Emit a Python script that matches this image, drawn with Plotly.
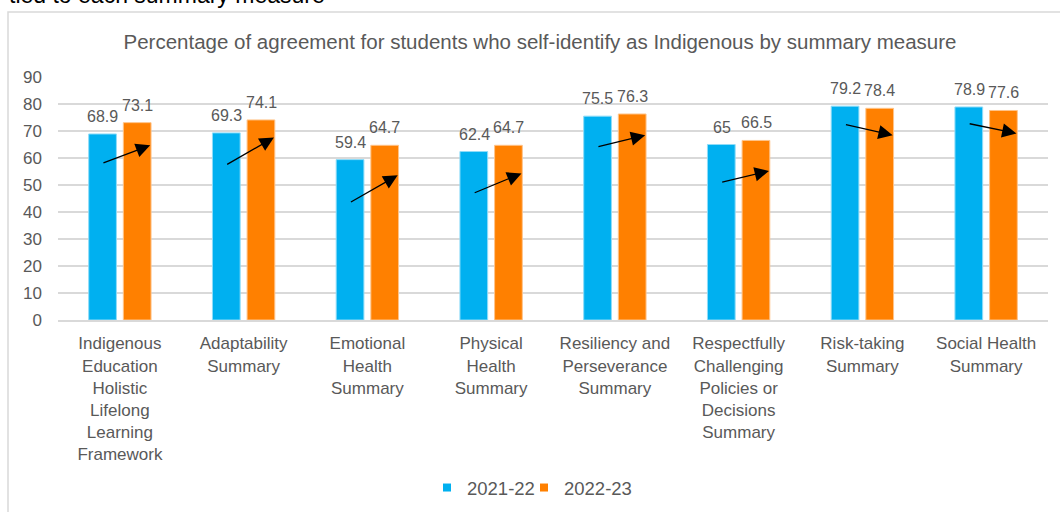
import plotly.graph_objects as go

categories = [
    "Indigenous<br>Education<br>Holistic<br>Lifelong<br>Learning<br>Framework",
    "Adaptability<br>Summary",
    "Emotional<br>Health<br>Summary",
    "Physical<br>Health<br>Summary",
    "Resiliency and<br>Perseverance<br>Summary",
    "Respectfully<br>Challenging<br>Policies or<br>Decisions<br>Summary",
    "Risk-taking<br>Summary",
    "Social Health<br>Summary",
]
series_names = ["2021-22", "2022-23"]
values_2021 = [68.9, 69.3, 59.4, 62.4, 75.5, 65, 79.2, 78.9]
values_2022 = [73.1, 74.1, 64.7, 64.7, 76.3, 66.5, 78.4, 77.6]
# decorative trend arrows (tail / head heights)
arrow_from = [58.0, 57.3, 43.4, 46.9, 64.1, 50.9, 72.5, 72.8]
arrow_to = [64.7, 67.6, 53.6, 54.3, 68.4, 55.2, 68.4, 69.1]
y_ticks = [0, 10, 20, 30, 40, 50, 60, 70, 80, 90]

title_text = "Percentage of agreement for students who self-identify as Indigenous by summary measure"
top_text = "tied to each summary measure"

BLUE = "#00B0F0"
ORANGE = "#FF8000"
GRAY_TXT = "#595959"
GRID = "#D9D9D9"
FONT = "Liberation Sans, Arial, sans-serif"

W, H = 1060, 512
ML, MR, MT, MB = 58, 12, 77, 192
PW = W - ML - MR
PH = H - MT - MB


def px_to_paper_x(px):
    return (px - ML) / PW


def px_to_paper_y(py):
    return (H - MB - py) / PH


fig = go.Figure()
fig.add_trace(go.Bar(
    x=list(range(len(categories))), y=values_2021, name=series_names[0],
    marker=dict(color=BLUE, line=dict(color="#8FDCF8", width=1)),
    showlegend=False, hoverinfo="skip",
))
fig.add_trace(go.Bar(
    x=list(range(len(categories))), y=values_2022, name=series_names[1],
    marker=dict(color=ORANGE, line=dict(color="#FFC48A", width=1)),
    showlegend=False, hoverinfo="skip",
))
# legend proxies with small square markers (one legend box each)
for nm, col, lg in zip(series_names, [BLUE, ORANGE], ["legend", "legend2"]):
    fig.add_trace(go.Scatter(
        x=[None], y=[None], mode="markers", name=nm, legend=lg,
        marker=dict(symbol="square", size=8, color=col),
    ))

annotations = []
for i, (a, b) in enumerate(zip(values_2021, values_2022)):
    annotations.append(dict(
        x=i, y=a, xref="x", yref="y", text=f"{a:g}", showarrow=False,
        yanchor="bottom", xshift=-17, yshift=7,
        font=dict(family=FONT, size=16, color=GRAY_TXT),
    ))
    annotations.append(dict(
        x=i, y=b, xref="x", yref="y", text=f"{b:g}", showarrow=False,
        yanchor="bottom", xshift=17.5, yshift=7,
        font=dict(family=FONT, size=16, color=GRAY_TXT),
    ))
for i, (s, e) in enumerate(zip(arrow_from, arrow_to)):
    annotations.append(dict(
        x=i + 0.245, y=e, ax=i - 0.145, ay=s,
        xref="x", yref="y", axref="x", ayref="y",
        text="", showarrow=True, arrowhead=2, arrowsize=2.2,
        arrowwidth=1.3, arrowcolor="black", standoff=0, startstandoff=0,
    ))
annotations.append(dict(
    x=px_to_paper_x(7), y=px_to_paper_y(10), xref="paper", yref="paper",
    xanchor="left", yanchor="bottom", text=top_text, showarrow=False,
    font=dict(family=FONT, size=23, color="black"),
))

shapes = [dict(
    type="rect", xref="paper", yref="paper",
    x0=px_to_paper_x(8), x1=px_to_paper_x(1075),
    y0=px_to_paper_y(530), y1=px_to_paper_y(12),
    line=dict(color=GRID, width=1.5), fillcolor="rgba(0,0,0,0)", layer="below",
)]

legend_common = dict(
    orientation="h", xref="container", yref="container",
    xanchor="left", y=1 - 488 / H, yanchor="middle",
    font=dict(family=FONT, size=18.5, color=GRAY_TXT),
    itemwidth=30, bgcolor="rgba(0,0,0,0)",
)

fig.update_layout(
    width=W, height=H,
    margin=dict(l=ML, r=MR, t=MT, b=MB),
    paper_bgcolor="white", plot_bgcolor="white",
    barmode="group", bargap=0.44, bargroupgap=0.2,
    title=dict(
        text=title_text, x=540 / W, xref="container", xanchor="center",
        y=1 - 42 / H, yref="container", yanchor="middle",
        font=dict(family=FONT, size=20.5, color=GRAY_TXT),
    ),
    font=dict(family=FONT, size=17, color=GRAY_TXT),
    xaxis=dict(
        tickmode="array", tickvals=list(range(len(categories))), ticktext=categories,
        range=[-0.5, len(categories) - 0.5],
        showgrid=False, showline=True, linecolor=GRID, linewidth=2,
        ticks="", ticklabelstandoff=7, automargin=False,
        tickfont=dict(family=FONT, size=17, color=GRAY_TXT),
    ),
    yaxis=dict(
        range=[0, 90], tickvals=y_ticks, showgrid=True, gridcolor=GRID, gridwidth=2,
        zeroline=False, showline=False, ticks="", ticklabelstandoff=15, automargin=False,
        tickfont=dict(family=FONT, size=17, color=GRAY_TXT),
    ),
    legend=dict(x=427 / W, **legend_common),
    legend2=dict(x=524 / W, **legend_common),
    annotations=annotations,
    shapes=shapes,
)

fig.write_html("out.html")
